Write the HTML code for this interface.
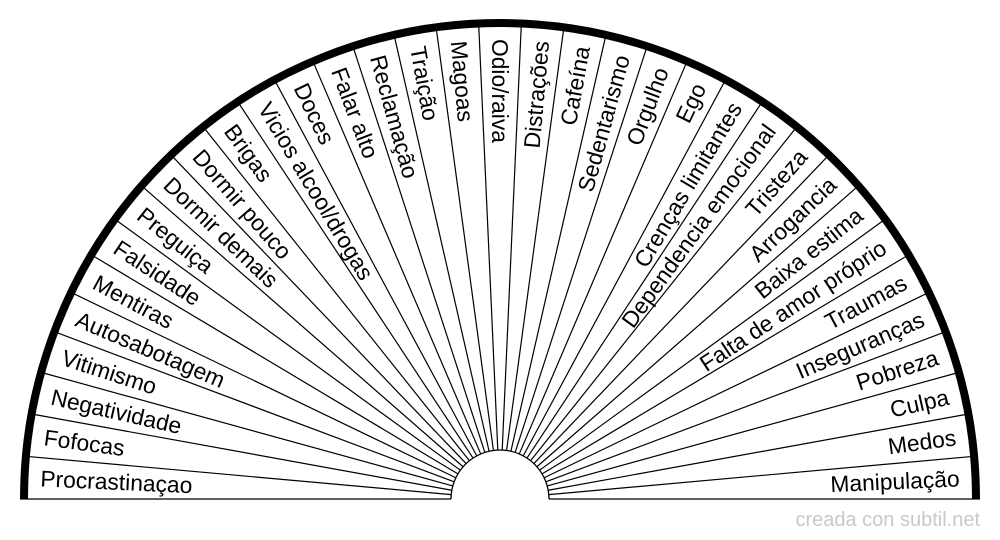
<!DOCTYPE html>
<html><head><meta charset="utf-8"><style>
html,body{margin:0;padding:0;background:#fff;width:1000px;height:540px;overflow:hidden}
svg{display:block}
text{font-family:"Liberation Sans",sans-serif;font-size:22.8px;fill:#000}
</style></head><body>
<svg id="s" width="1000" height="540" viewBox="0 0 1000 540" xmlns="http://www.w3.org/2000/svg">
<text x="980" y="526" text-anchor="end" style="font-size:20px;fill:#c8c8c8">creada con subtil.net</text>
</svg>
<script>
var labels=["Procrastinaçao","Fofocas","Negatividade","Vitimismo","Autosabotagem","Mentiras","Falsidade","Preguiça","Dormir demais","Dormir pouco","Brigas","Vicios alcool/drogas","Doces","Falar alto","Reclamação","Traição","Magoas","Odio/raiva","Distrações","Cafeína","Sedentarismo","Orgulho","Ego","Crenças limitantes","Dependencia emocional","Tristeza","Arrogancia","Baixa estima","Falta de amor próprio","Traumas","Inseguranças","Pobreza","Culpa","Medos","Manipulação"];
var cx=500,cy=499,ri=49,ro=476,n=labels.length,st=180/n,h="";
h+='<line x1="20" y1="499" x2="451" y2="499" stroke="#000" stroke-width="1.3"/>';
h+='<line x1="549" y1="499" x2="980" y2="499" stroke="#000" stroke-width="1.3"/>';
for(var k=1;k<n;k++){var a=(180-k*st)*Math.PI/180,c=Math.cos(a),s=Math.sin(a);
h+='<line x1="'+(cx+ri*c)+'" y1="'+(cy-ri*s)+'" x2="'+(cx+ro*c)+'" y2="'+(cy-ro*s)+'" stroke="#000" stroke-width="1.2"/>';}
h+='<path d="M'+(cx-ri)+' '+cy+' A'+ri+' '+ri+' 0 0 1 '+(cx+ri)+' '+cy+'" fill="none" stroke="#000" stroke-width="1.3"/>';
h+='<path d="M'+(cx-ro)+' '+cy+' A'+ro+' '+ro+' 0 0 1 '+(cx+ro)+' '+cy+'" fill="none" stroke="#000" stroke-width="8"/>';
for(var i=0;i<n;i++){var t=180-(i+0.5)*st,a=t*Math.PI/180,r=460,x=cx+r*Math.cos(a),y=cy-r*Math.sin(a);
if(i<=17){h+='<text x="'+x+'" y="'+y+'" dominant-baseline="central" text-anchor="start" transform="rotate('+(180-t)+' '+x+' '+y+')">'+labels[i]+'</text>';}
else{h+='<text x="'+x+'" y="'+y+'" dominant-baseline="central" text-anchor="end" transform="rotate('+(-t)+' '+x+' '+y+')">'+labels[i]+'</text>';}}
document.getElementById('s').insertAdjacentHTML('beforeend',h);
</script>
</body></html>
